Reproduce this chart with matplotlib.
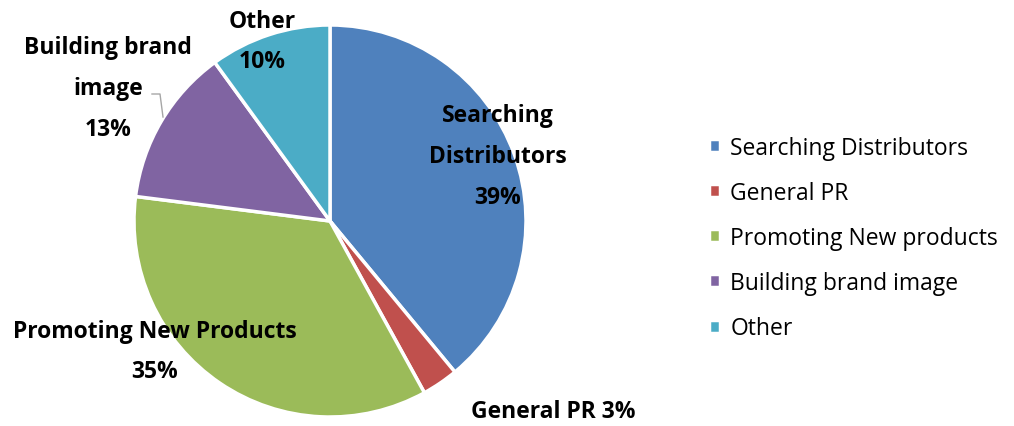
import matplotlib
matplotlib.use('Agg')
import matplotlib.pyplot as plt

plt.rcParams['font.family'] = ['Open Sans', 'DejaVu Sans']

# 데이터
categories = ['Searching Distributors', 'General PR', 'Promoting New products',
              'Building brand image', 'Other']
values = [39, 3, 35, 13, 10]
slice_labels = ['Searching\nDistributors\n39%', 'General PR 3%',
                'Promoting New Products\n35%', 'Building brand\nimage\n13%',
                'Other\n10%']
colors = ['#4F81BD', '#C0504D', '#9BBB59', '#8064A2', '#4BACC6']

W, H = 1014, 427
cx, cy, r = 330, 222, 196

fig = plt.figure(figsize=(W / 100, H / 100), dpi=100)
ax = fig.add_axes([(cx - r) / W, (H - cy - r) / H, 2 * r / W, 2 * r / H])

wedges, _ = ax.pie(values, colors=colors, startangle=90, counterclock=False,
                   radius=1.0, wedgeprops=dict(edgecolor='white', linewidth=2.5))
ax.set_xlim(-1, 1)
ax.set_ylim(-1, 1)
ax.set_aspect('equal')
ax.axis('off')

# 라벨 위치 (픽셀)
label_pos = [(498, 157), (553, 412), (155, 352), (108, 89), (262, 42)]
for lab, (px, py) in zip(slice_labels, label_pos):
    ax.text((px - cx) / r, (cy - py) / r, lab, ha='center', va='center',
            fontsize=16.5, fontweight='bold', linespacing=1.94, clip_on=False)

# leader line for Building brand image
lx = [(152 - cx) / r, (160 - cx) / r, (163 - cx) / r]
ly = [(cy - 95) / r, (cy - 95) / r, (cy - 118) / r]
ax.plot(lx, ly, color='#A6A6A6', linewidth=1, clip_on=False)

fig.legend(wedges, categories, loc='center left',
           bbox_to_anchor=(688 / W, 1 - 239 / H), frameon=False,
           fontsize=16.5, handlelength=0.5, handleheight=0.5,
           handletextpad=0.45, labelspacing=0.92)

fig.savefig('out.png', dpi=100)
